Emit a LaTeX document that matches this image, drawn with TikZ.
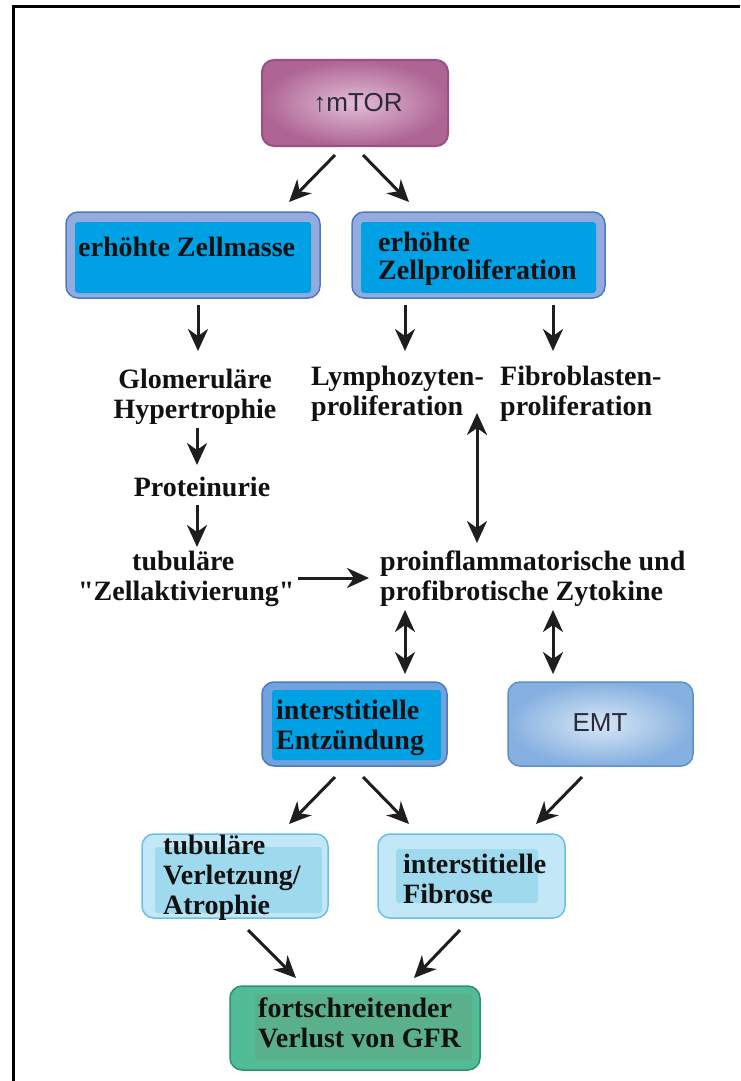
\documentclass[tikz,border=0pt]{standalone}
\usepackage{fontspec}
\setmainfont{Liberation Serif}
\newfontfamily\arialfont{Liberation Sans}
\usetikzlibrary{arrows.meta,calc}
\newcommand\straightquote{\XeTeXglyph\XeTeXcharglyph"22\relax}
\definecolor{arrowc}{HTML}{1E1E1E}
\definecolor{brightblue}{HTML}{00A0E4}
\definecolor{ringblue}{HTML}{94ABDD}
\definecolor{edgeblue}{HTML}{4E78C6}
\definecolor{ringblueB}{HTML}{6FA3DB}
\definecolor{emtin}{HTML}{D8E7F6}
\definecolor{emtout}{HTML}{86B0E0}
\definecolor{emtedge}{HTML}{5A8FD0}
\definecolor{lightring}{HTML}{C2E8F8}
\definecolor{lightedge}{HTML}{69BFEA}
\definecolor{lightin}{HTML}{9FD9EE}
\definecolor{greenring}{HTML}{52BC96}
\definecolor{greenedge}{HTML}{2A9270}
\definecolor{greenin}{HTML}{5AB08A}
\definecolor{mtorin}{HTML}{E2BED6}
\definecolor{mtorout}{HTML}{AE6494}
\definecolor{mtoredge}{HTML}{9C4F83}
\definecolor{textc}{HTML}{111111}
\definecolor{sanstext}{HTML}{2A2A3A}
\begin{document}
\begin{tikzpicture}[x=1pt,y=-1pt,
  box/.style={rounded corners=12pt, inner sep=0pt, line width=1.5pt},
  innerrect/.style n args={5}{path picture={\fill[#1, rounded corners=3pt]
      ([shift={(#2,#5)}]path picture bounding box.south west) rectangle
      ([shift={(-#3,-#4)}]path picture bounding box.north east);}},
  lbl/.style={font=\bfseries\fontsize{28}{30}\selectfont, text=textc, inner sep=0pt, align=left, anchor=north west},
  sanslbl/.style={font=\arialfont\fontsize{26}{30}\selectfont, text=sanstext, inner sep=0pt},
  arr/.style={draw=arrowc, line width=3pt, -{Stealth[length=22pt,width=20pt,inset=7pt]}},
  darr/.style={draw=arrowc, line width=3pt, {Stealth[length=22pt,width=20pt,inset=7pt]}-{Stealth[length=22pt,width=20pt,inset=7pt]}}
]
\useasboundingbox (0,0) rectangle (740,1081);
\fill[white] (-20,-20) rectangle (760,1101);
% frame
\draw[line width=3pt, black] (13,1081) -- (13,7) -- (740,7);

% boxes
\node[box, draw=mtoredge, line width=2pt, inner color=mtorin, outer color=mtorout,
      minimum width=186pt, minimum height=86pt] (mtor) at (355,103) {};
\node[sanslbl] (mtort) at (358,103) {{\bfseries ↑}mTOR};

\node[box, draw=edgeblue, fill=ringblue, innerrect={brightblue}{9pt}{9pt}{10pt}{5pt},
      minimum width=254pt, minimum height=86pt] (zm) at (193,255) {};
\node[lbl] (zmt) at (78,237) {erhöhte Zellmasse};

\node[box, draw=edgeblue, fill=ringblue, innerrect={brightblue}{9pt}{9pt}{10pt}{5pt},
      minimum width=253pt, minimum height=86pt] (zp) at (478.5,255) {};
\node[lbl, font=\bfseries\fontsize{28}{28}\selectfont] (zpt) at (378,232) {erhöhte\\Zellproliferation};

\node[box, draw=edgeblue, fill=ringblueB, innerrect={brightblue}{10pt}{6pt}{8pt}{6pt},
      minimum width=185pt, minimum height=84pt] (ie) at (354.5,724) {};
\node[lbl] (iet) at (276,700) {interstitielle\\Entzündung};

\node[box, draw=emtedge, inner color=emtin, outer color=emtout,
      minimum width=185pt, minimum height=84pt] (emt) at (600.5,724) {};
\node[sanslbl] (emtt) at (600,723) {EMT};

\node[box, draw=lightedge, fill=lightring, innerrect={lightin}{13pt}{6pt}{13pt}{5pt},
      minimum width=186pt, minimum height=84pt] (tv) at (235,876) {};
\node[lbl] (tvt) at (163,835) {tubuläre\\Verletzung/\\Atrophie};

\node[box, draw=lightedge, fill=lightring, innerrect={lightin}{18pt}{27pt}{15pt}{15pt},
      minimum width=187pt, minimum height=84pt] (if) at (471.5,876) {};
\node[lbl] (ift) at (403,854) {interstitielle\\Fibrose};

\node[box, draw=greenedge, fill=greenring, innerrect={greenin}{25pt}{8pt}{8pt}{10pt},
      minimum width=250pt, minimum height=84pt] (gfr) at (355,1028) {};
\node[lbl] (gfrt) at (258,998) {fortschreitender\\Verlust von GFR};

% free texts
\node[lbl, anchor=north, align=center] (glom) at (195,369) {Glomeruläre\\Hypertrophie};
\node[lbl] (lymph) at (311,366) {Lymphozyten-\\proliferation};
\node[lbl] (fibro) at (500,366) {Fibroblasten-\\proliferation};
\node[lbl, anchor=north] (prot) at (202,477) {Proteinurie};
\node[lbl] (tub) at (78,551) {\hspace*{54pt}tubuläre\\\straightquote Zellaktivierung\straightquote};
\node[lbl] (zyt) at (380,551) {proinflammatorische und\\profibrotische Zytokine};

% arrow end points
\coordinate (m1s) at (335,155); \coordinate (m1e) at (289,202);
\coordinate (m2s) at (363,155); \coordinate (m2e) at (409,202);
\coordinate (zms) at (198,305); \coordinate (zme) at (198,351);
\coordinate (zp1s) at (405,305); \coordinate (zp1e) at (405,351);
\coordinate (zp2s) at (553,305); \coordinate (zp2e) at (553,351);
\coordinate (gls) at (197,428); \coordinate (gle) at (197,465);
\coordinate (prs) at (197,505); \coordinate (pre) at (197,547);
\coordinate (tus) at (298,578); \coordinate (tue) at (369,578);
\coordinate (lys) at (477,413); \coordinate (lye) at (477,543);
\coordinate (z1s) at (405,610); \coordinate (z1e) at (405,674);
\coordinate (z2s) at (553,610); \coordinate (z2e) at (553,674);
\coordinate (e1s) at (335,777); \coordinate (e1e) at (289,824);
\coordinate (e2s) at (363,777); \coordinate (e2e) at (409,824);
\coordinate (ems) at (582,777); \coordinate (eme) at (536,824);
\coordinate (t1s) at (248,930); \coordinate (t1e) at (296,978);
\coordinate (f1s) at (460,930); \coordinate (f1e) at (414,978);

\draw[arr] (m1s) -- (m1e);
\draw[arr] (m2s) -- (m2e);
\draw[arr] (zms) -- (zme);
\draw[arr] (zp1s) -- (zp1e);
\draw[arr] (zp2s) -- (zp2e);
\draw[arr] (gls) -- (gle);
\draw[arr] (prs) -- (pre);
\draw[arr] (tus) -- (tue);
\draw[darr] (lys) -- (lye);
\draw[darr] (z1s) -- (z1e);
\draw[darr] (z2s) -- (z2e);
\draw[arr] (e1s) -- (e1e);
\draw[arr] (e2s) -- (e2e);
\draw[arr] (ems) -- (eme);
\draw[arr] (t1s) -- (t1e);
\draw[arr] (f1s) -- (f1e);
\end{tikzpicture}
\end{document}
